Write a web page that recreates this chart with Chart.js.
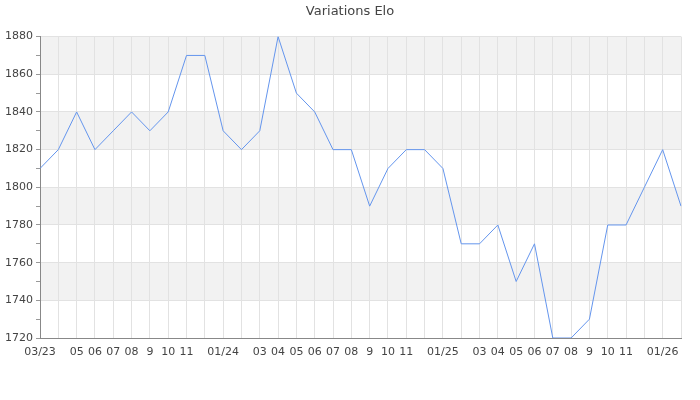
<!DOCTYPE html>
<html>
<head>
<meta charset="utf-8">
<script src="https://cdn.jsdelivr.net/npm/chart.js@4"></script>
<style>
html,body{margin:0;padding:0;background:#fff;}
#wrap{width:700px;height:400px;}
</style>
</head>
<body>
<div id="wrap"><canvas id="c" width="700" height="400"></canvas></div>
<script>
const months = ["03/23","04","05","06","07","08","9","10","11","12","01/24","02","03","04","05","06","07","08","9","10","11","12","01/25","02","03","04","05","06","07","08","9","10","11","12","01/26","02"];
const tickLabels = ["03/23","","05","06","07","08","9","10","11","","01/24","","03","04","05","06","07","08","9","10","11","","01/25","","03","04","05","06","07","08","9","10","11","","01/26",""];
const elo = [1810,1820,1840,1820,1830,1840,1830,1840,1870,1870,1830,1820,1830,1880,1850,1840,1820,1820,1790,1810,1820,1820,1810,1770,1770,1780,1750,1770,1720,1720,1730,1780,1780,1800,1820,1790];
const yMin = 1720, yMax = 1880, yBand = 20;

const bands = {
  id: 'bands',
  beforeDraw(chart) {
    const {ctx, chartArea: a, scales: {y}} = chart;
    ctx.save();
    ctx.fillStyle = '#f2f2f2';
    let i = 0;
    for (let v = yMin; v < yMax; v += yBand, i++) {
      if (i % 2 === 1) {
        const t = y.getPixelForValue(v + yBand), b = y.getPixelForValue(v);
        ctx.fillRect(a.left, t, a.right - a.left, b - t);
      }
    }
    ctx.restore();
  }
};

new Chart(document.getElementById('c'), {
  type: 'line',
  data: {
    labels: months,
    datasets: [{
      data: elo,
      borderColor: '#6495ed',
      borderWidth: 1,
      pointRadius: 0,
      tension: 0,
      fill: false
    }]
  },
  options: {
    responsive: false,
    animation: false,
    devicePixelRatio: 1,
    layout: {padding: 0},
    plugins: {
      legend: {display: false},
      tooltip: {enabled: false},
      title: {
        display: true,
        text: 'Variations Elo',
        color: '#444',
        font: {family: 'DejaVu Sans', size: 13, weight: 'normal'},
        padding: {top: 4, bottom: 17}
      }
    },
    scales: {
      x: {
        offset: false,
        grid: {color: '#e2e2e2', drawTicks: false, tickLength: 6},
        border: {color: '#888', width: 1},
        ticks: {
          autoSkip: false, maxRotation: 0, minRotation: 0,
          color: '#444', font: {family: 'DejaVu Sans', size: 11}, padding: 8,
          callback: (v, i) => tickLabels[i]
        },
        afterFit(s) { s.height = 62; }
      },
      y: {
        min: yMin, max: yMax,
        grid: {
          color: ctx => (ctx.tick && ctx.tick.value % 20 === 0) ? '#e2e2e2' : 'rgba(0,0,0,0)',
          tickColor: '#999', tickLength: 4
        },
        border: {color: '#888', width: 1},
        ticks: {
          stepSize: 10, color: '#444', font: {family: 'DejaVu Sans', size: 11}, padding: 3,
          callback: v => (v % 20 === 0 ? v : '')
        },
        afterFit(s) { s.width = 40; }
      },
      yr: {
        position: 'right',
        min: yMin, max: yMax,
        grid: {display: false, drawTicks: false},
        border: {display: false},
        ticks: {display: false},
        afterFit(s) { s.width = 19; }
      }
    }
  },
  plugins: [bands]
});
</script>
</body>
</html>
